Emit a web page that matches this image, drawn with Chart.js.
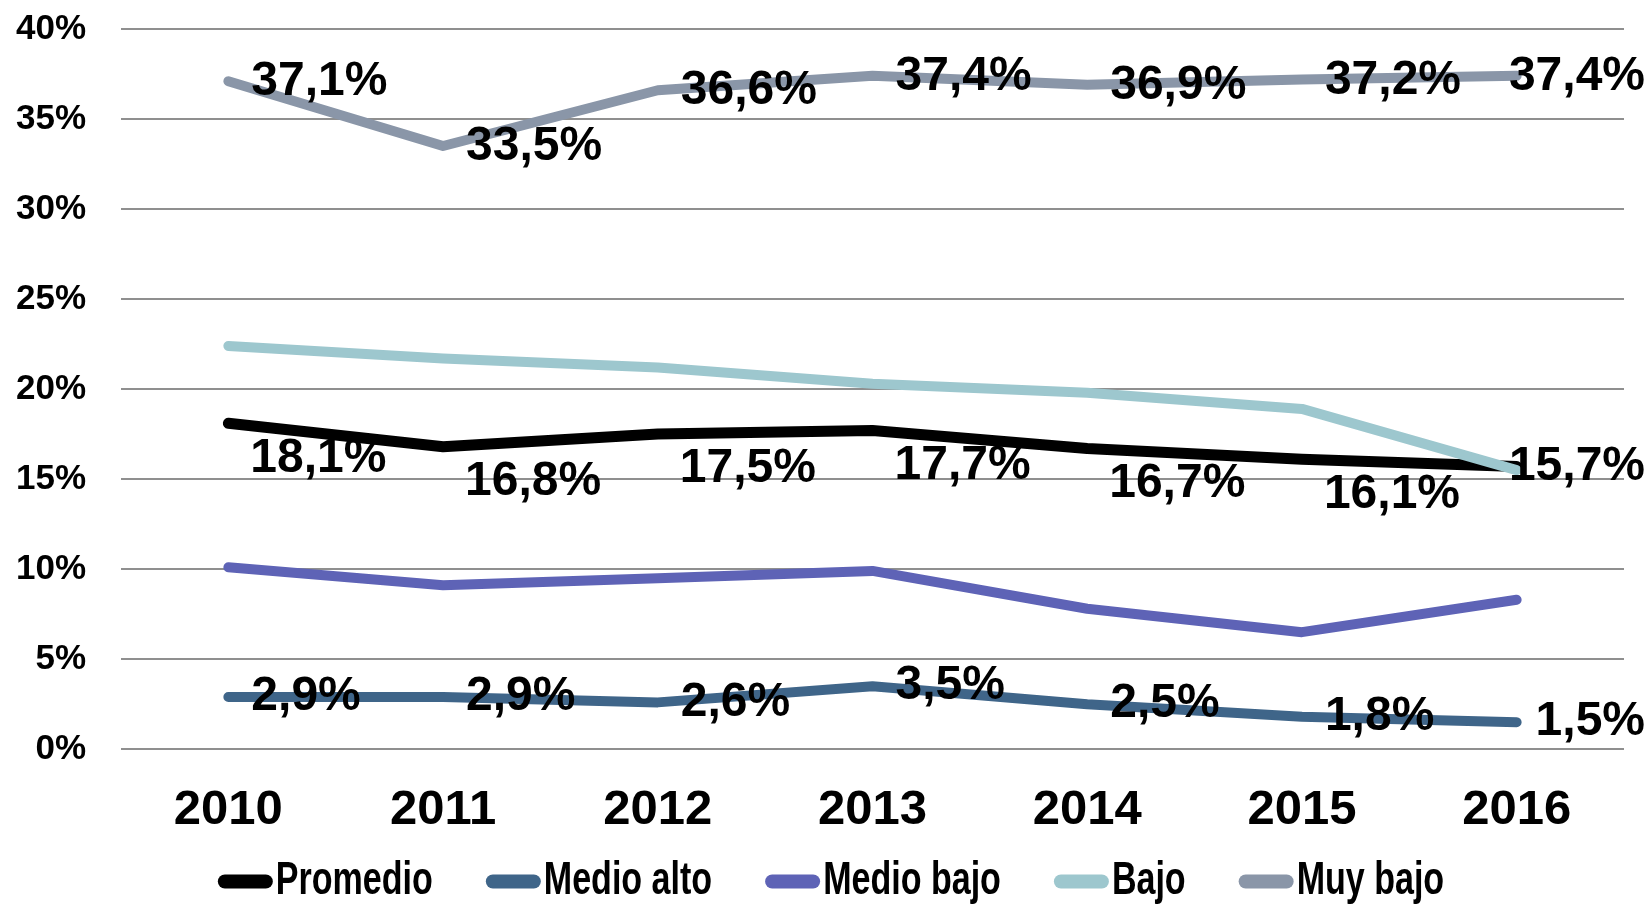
<!DOCTYPE html>
<html><head><meta charset="utf-8">
<script src="https://cdn.jsdelivr.net/npm/chart.js@4.4.0/dist/chart.umd.min.js"></script>
<style>html,body{margin:0;padding:0;background:#fff;} canvas{display:block;}</style>
</head><body>
<canvas id="c" width="1649" height="905"></canvas>
<script>
// ---- data ----
const years = ['2010','2011','2012','2013','2014','2015','2016'];
const promedio  = [18.1, 16.8, 17.5, 17.7, 16.7, 16.1, 15.7];
const medioAlto = [2.9, 2.9, 2.6, 3.5, 2.5, 1.8, 1.5];
const medioBajo = [10.1, 9.1, 9.5, 9.9, 7.8, 6.5, 8.3];
const bajo      = [22.4, 21.7, 21.2, 20.3, 19.8, 18.9, 15.5];
const muyBajo   = [37.1, 33.5, 36.6, 37.4, 36.9, 37.2, 37.4];
const seriesNames = ['Promedio', 'Medio alto', 'Medio bajo', 'Bajo', 'Muy bajo'];
const yTickValues = [0, 5, 10, 15, 20, 25, 30, 35, 40];

// ---- styles ----
const colors = ['#000000', '#3f6589', '#5e63b6', '#9dc7ce', '#8a96a8'];
const widths = [11, 10, 10, 10, 10];
const drawOrder = [1, 2, 2, 0, 2];
// label style per series: null = no labels
const labelStyle = [
  {dx: 22, dy: 35, lastDy: 0},
  {dx: 23, dy: 0, lastDy: 0},
  null,
  null,
  {dx: 23, dy: 1, lastDy: 1}
];
const seriesData = [promedio, medioAlto, medioBajo, bajo, muyBajo];

const fmt = v => v.toFixed(1).replace('.', ',') + '%';

const labelPlugin = {
  id: 'pointLabels',
  afterDatasetsDraw(chart) {
    const ctx = chart.ctx;
    ctx.save();
    ctx.font = 'bold 48px "Liberation Sans"';
    ctx.fillStyle = '#000';
    ctx.textBaseline = 'middle';
    ctx.textAlign = 'left';
    chart.data.datasets.forEach((ds, di) => {
      const st = labelStyle[di];
      if (!st) return;
      const meta = chart.getDatasetMeta(di);
      meta.data.forEach((el, i) => {
        const txt = fmt(ds.data[i]);
        const w = ctx.measureText(txt).width;
        let x = el.x + st.dx;
        const last = i === meta.data.length - 1;
        const y = el.y + (last ? st.lastDy : st.dy);
        if (x + w > chart.width - 4) x = chart.width - 4 - w;
        ctx.fillText(txt, x, y);
      });
    });
    ctx.restore();
  }
};

const legendPlugin = {
  id: 'customLegend',
  afterDraw(chart) {
    const ctx = chart.ctx;
    const sx = 0.74, symW = 41, cap = 7, gapText = 3, gapItem = 53, yMid = 881.5;
    ctx.save();
    ctx.font = 'bold 46px "Liberation Sans"';
    const items = chart.data.datasets.map(ds => ({
      label: ds.label, color: ds.borderColor,
      tw: ctx.measureText(ds.label).width * sx
    }));
    const symTotal = symW + 2 * cap;
    let total = 0;
    items.forEach((it, i) => { total += symTotal + gapText + it.tw + (i ? gapItem : 0); });
    let x = 831 - total / 2;
    items.forEach(it => {
      ctx.beginPath();
      ctx.lineCap = 'round';
      ctx.lineWidth = 14;
      ctx.strokeStyle = it.color;
      ctx.moveTo(x + cap, yMid);
      ctx.lineTo(x + cap + symW, yMid);
      ctx.stroke();
      x += symTotal + gapText;
      ctx.save();
      ctx.translate(x, yMid);
      ctx.scale(sx, 1);
      ctx.fillStyle = '#000';
      ctx.textBaseline = 'middle';
      ctx.textAlign = 'left';
      ctx.fillText(it.label, 0, 0);
      ctx.restore();
      x += it.tw + gapItem;
    });
    ctx.restore();
  }
};

const datasets = seriesNames.map((name, i) => ({
  label: name,
  data: seriesData[i],
  borderColor: colors[i],
  backgroundColor: colors[i],
  borderWidth: widths[i],
  borderCapStyle: 'round',
  borderJoinStyle: 'round',
  pointRadius: 0,
  pointHoverRadius: 0,
  tension: 0,
  fill: false,
  order: drawOrder[i]
}));

new Chart(document.getElementById('c'), {
  type: 'line',
  data: { labels: years, datasets },
  options: {
    responsive: false,
    animation: false,
    devicePixelRatio: 1,
    layout: { padding: { left: 0, right: 25, top: 29, bottom: 33 } },
    plugins: {
      legend: { display: false },
      tooltip: { enabled: false },
      title: { display: false }
    },
    scales: {
      x: {
        offset: true,
        grid: { display: false, drawTicks: false },
        border: { display: false },
        ticks: {
          color: '#000',
          padding: 32,
          maxRotation: 0,
          font: { family: '"Liberation Sans"', size: 49, weight: 'bold' }
        }
      },
      y: {
        min: 0, max: 40,
        afterBuildTicks: s => { s.ticks = yTickValues.map(v => ({ value: v })); },
        afterFit: s => { s.width = 121; s.paddingTop = 0; s.paddingBottom = 0; },
        grid: { color: '#8f8f8f', lineWidth: 2, drawTicks: false },
        border: { display: false },
        ticks: {
          color: '#000',
          padding: 35,
          callback: v => v + '%',
          font: { family: '"Liberation Sans"', size: 35, weight: 'bold' }
        }
      }
    }
  },
  plugins: [labelPlugin, legendPlugin]
});
</script>
</body></html>
